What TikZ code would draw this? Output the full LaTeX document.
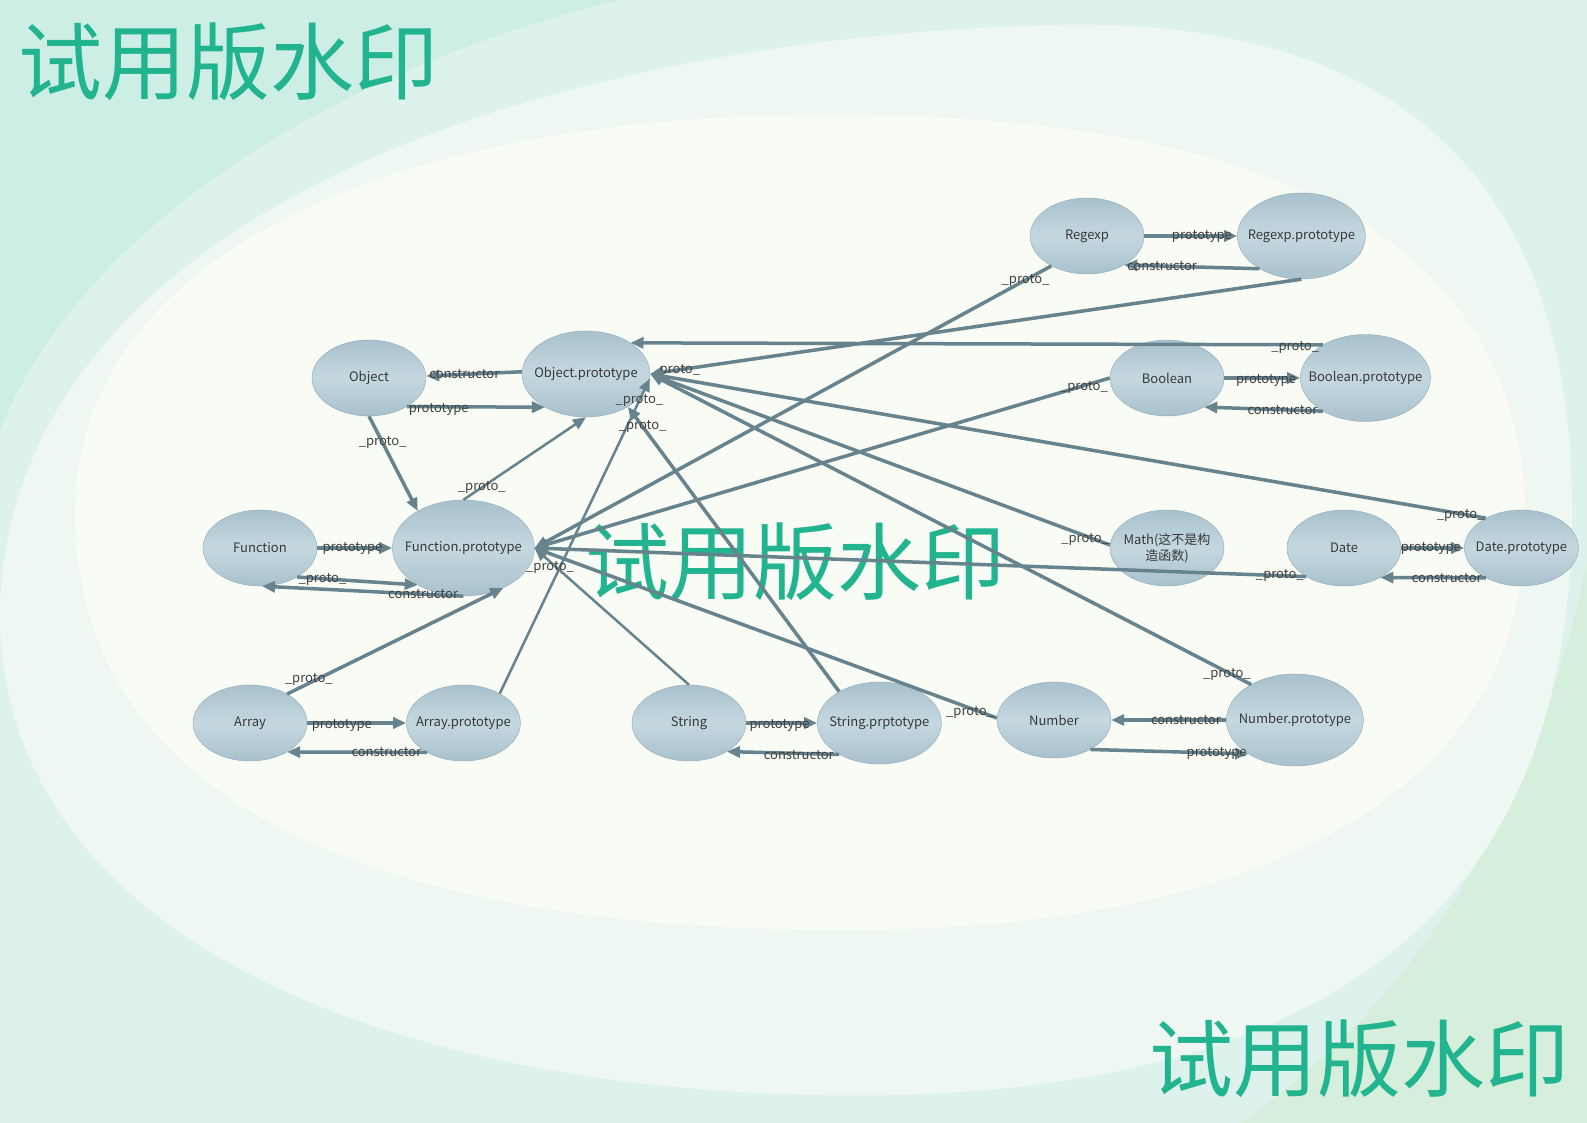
\documentclass[tikz,border=0pt]{standalone}
\usepackage{fontspec}
\newfontfamily\cjk{Noto Sans CJK SC}
\usepackage{xcolor}
\usetikzlibrary{arrows.meta, positioning, shapes.geometric}
\definecolor{edgec}{HTML}{67838D}
\definecolor{nodetop}{HTML}{A8C1CC}
\definecolor{nodemid}{HTML}{C5D8E0}
\definecolor{nodeline}{HTML}{8EAAB5}
\definecolor{wmark}{HTML}{22B48F}
\definecolor{bgmint}{HTML}{DDF2EC}
\definecolor{bgteal}{HTML}{CDEEE4}
\definecolor{bgsoft}{HTML}{EEF7F1}
\definecolor{bgpale}{HTML}{F9FBF5}
\definecolor{bggreen}{HTML}{D6EFDD}
\tikzset{
    obj/.style={ellipse, draw=nodeline, thin, top color=nodetop, bottom color=nodetop,
                middle color=nodemid, inner xsep=-30pt, inner ysep=0pt,
                minimum width=114pt, minimum height=76pt, align=center,
                font=\cjk\fontsize{13}{16}\selectfont, text=black!78},
    link/.style={draw=edgec, line width=3.5pt, -{Triangle[length=13pt,width=11pt]}},
    thinlink/.style={link, line width=2.5pt},
    lbl/.style={font=\cjk\fontsize{13}{15}\selectfont, text=black!75, inner sep=0pt},
    wm/.style={font=\cjk\fontsize{84}{90}\selectfont, text=wmark, inner sep=0pt}
}

\begin{document}
\begin{tikzpicture}[x=1pt, y=-1pt]

  % --- background ---
  \useasboundingbox (0,0) rectangle (1587,1123);
  \fill[bgmint] (0,0) rectangle (1587,1123);
  \fill[bgteal] (0,0) -- (620,0) .. controls (330,70) and (80,230) .. (0,430) -- cycle;
  \fill[bggreen] (1587,560) -- (1587,1123) -- (1240,1123)
        .. controls (1420,1000) and (1540,800) .. (1587,560) -- cycle;
  \fill[bgsoft] (0,600) .. controls (20,220) and (520,40) .. (1050,25)
        .. controls (1420,15) and (1575,200) .. (1572,520)
        .. controls (1568,850) and (1400,1080) .. (900,1095)
        .. controls (420,1105) and (-10,950) .. (0,600) -- cycle;
  \fill[bgpale] (75,520) .. controls (70,250) and (400,120) .. (800,115)
        .. controls (1200,110) and (1510,200) .. (1525,500)
        .. controls (1540,800) and (1250,935) .. (820,930)
        .. controls (350,925) and (80,790) .. (75,520) -- cycle;

  % --- watermarks ---
  \node[wm] (wmtop) at (228,62) {试用版水印};
  \node[wm] (wmmid) at (795,562) {试用版水印};
  \node[wm] (wmbot) at (1359,1059) {试用版水印};

  % --- Object / Function ---
  \node[obj] (object) at (369,378) {Object};
  \node[obj, minimum width=128pt, minimum height=86pt] (oproto) at (586,374) {Object.prototype};
  \node[obj] (func) at (260,548) {Function};
  \node[obj, minimum width=142pt, minimum height=96pt, right=75pt of func] (fproto) {Function.prototype};

  % --- Array / String / Number ---
  \node[obj] (array) at (250,723) {Array};
  \node[obj, right=99pt of array] (aproto) {Array.prototype};
  \node[obj] (string) at (689,723) {String};
  \node[obj, minimum width=124pt, minimum height=82pt, right=71pt of string] (sproto) {String.prptotype};
  \node[obj] (number) at (1054,720) {Number};
  \node[obj, minimum width=137pt, minimum height=92pt, right=115pt of number] (nproto) {Number.prototype};

  % --- Regexp / Boolean / Math / Date ---
  \node[obj] (regexp) at (1087,236) {Regexp};
  \node[obj, minimum width=128pt, minimum height=86pt, right=93pt of regexp] (rproto) {Regexp.prototype};
  \node[obj] (boolean) at (1167,378) {Boolean};
  \node[obj, minimum width=130pt, minimum height=87pt, right=76pt of boolean] (bproto) {Boolean.prototype};
  \node[obj] (math) at (1167,548) {Math(这不是构\\造函数)};
  \node[obj] (date) at (1344,548) {Date};
  \node[obj, right=63pt of date] (dproto) {Date.prototype};

  % --- Object / Function links ---
  \draw[link] (oproto.178) -- node[lbl, pos=0.6] {constructor} (object.2);
  \draw[link] (object.-37) -- node[lbl, pos=0.23, yshift=-3pt] {prototype} (oproto.-141);
  \draw[link] (object.south) -- node[lbl, pos=0.28] {\_proto\_} (fproto.141);
  \draw[thinlink] (fproto.north) -- node[lbl, pos=0.15] {\_proto\_} (oproto.south);
  \draw[link] (func.east) -- node[lbl, pos=0.47] {prototype} (fproto.west);
  \draw[link] (func.-38) -- node[lbl, pos=0.21, yshift=-1pt] {\_proto\_} (fproto.-141);
  \draw[link] (fproto.-90) -- node[lbl, pos=0.2] {constructor} (func.-87);

  % --- Array links ---
  \draw[link] (array.38) -- node[lbl, pos=0.1, yshift=4pt] {\_proto\_} (fproto.-45);
  \draw[link] (array.east) -- node[lbl, pos=0.35, yshift=-2pt] {prototype} (aproto.west);
  \draw[link] (aproto.-141) -- node[lbl, pos=0.29] {constructor} (array.-38);
  \draw[thinlink] (aproto.39) -- node[lbl, pos=0.93] {\_proto\_} (oproto.-4);

  % --- into Object.prototype ---
  \draw[link] (sproto.142) -- node[lbl, pos=0.93] {\_proto\_} (oproto.-38);
  \draw[link] (rproto.south) -- node[lbl, pos=0.96] {\_proto\_} (oproto.east);
  \draw[link] (bproto.142) -- node[lbl, pos=0.04, yshift=-3pt] {\_proto\_} (oproto.35);
  \draw[link] (dproto.140) -- node[lbl, pos=0.03, yshift=-2pt] {\_proto\_} (oproto.east);
  \draw[link] (math.177) -- node[lbl, pos=0.054, yshift=-4pt] {\_proto\_} (oproto.east);
  \draw[link] (nproto.141) -- node[lbl, pos=0.04, yshift=-2pt] {\_proto\_} (oproto.east);

  % --- into Function.prototype ---
  \draw[link] (regexp.-140) -- node[lbl, pos=0.05] {\_proto\_} (fproto.east);
  \draw[link] (boolean.west) -- node[lbl, pos=0.045, yshift=-2pt] {\_proto\_} (fproto.east);
  \draw[link] (date.-143) -- node[lbl, pos=0.034] {\_proto\_} (fproto.east);
  \draw[thinlink] (string.north) -- node[lbl, pos=0.9, yshift=-6pt] {\_proto\_} (fproto.east);
  \draw[link] (number.178) -- node[lbl, pos=0.058, yshift=-4pt] {\_proto\_} (fproto.east);

  % --- constructor / prototype pairs ---
  \draw[link] (regexp.east) -- node[lbl, pos=0.62] {prototype} (rproto.west);
  \draw[link] (rproto.-142) -- node[lbl, pos=0.72] {constructor} (regexp.-38);
  \draw[link] (boolean.east) -- node[lbl, pos=0.55, yshift=-2pt] {prototype} (bproto.west);
  \draw[link] (bproto.-142) -- node[lbl, pos=0.34] {constructor} (boolean.-38);
  \draw[link] (date.east) -- node[lbl, pos=0.47] {prototype} (dproto.west);
  \draw[link] (dproto.-140) -- node[lbl, pos=0.37] {constructor} (date.-39);
  \draw[link] (string.east) -- node[lbl, pos=0.47, yshift=-2pt] {prototype} (sproto.west);
  \draw[link] (sproto.-142) -- node[lbl, pos=0.36, yshift=-2pt] {constructor} (string.-37);
  \draw[link] (nproto.west) -- node[lbl, pos=0.35] {constructor} (number.east);
  \draw[link] (number.-39) -- node[lbl, pos=0.8] {prototype} (nproto.-144);

\end{tikzpicture}
\end{document}
